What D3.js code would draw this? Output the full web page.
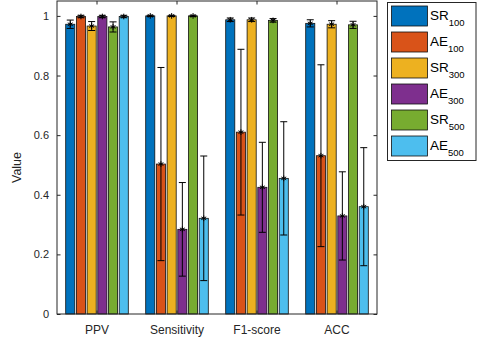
<!DOCTYPE html>
<html>
<head>
<meta charset="utf-8">
<script src="https://cdn.jsdelivr.net/npm/d3@7"></script>
<style>
  body { margin: 0; background: #fff; }
  svg { display: block; font-family: "Liberation Sans", Arial, sans-serif; }
  .tick text { fill: #262626; font-size: 11px; }
  .xax .tick text { font-size: 12px; }
</style>
</head>
<body>
<div id="chart"></div>
<script>
const categories = ["PPV", "Sensitivity", "F1-score", "ACC"];
const seriesNames = ["SR", "AE", "SR", "AE", "SR", "AE"];
const seriesSubs = ["100", "100", "300", "300", "500", "500"];
const colors = ["#0072BD", "#D95319", "#EDB120", "#7E2F8E", "#77AC30", "#4DBEEE"];

// mean per series, one value per category
const means = [
    [0.972, 1.000, 0.987, 0.975],
    [0.998, 0.503, 0.610, 0.531],
    [0.966, 1.000, 0.987, 0.972],
    [0.998, 0.284, 0.425, 0.329],
    [0.963, 1.000, 0.985, 0.970],
    [0.998, 0.321, 0.455, 0.360]
];
// error bar half length per series
const errs = [
    [0.014, 0.002, 0.006, 0.012],
    [0.004, 0.324, 0.278, 0.305],
    [0.015, 0.002, 0.006, 0.012],
    [0.004, 0.157, 0.151, 0.148],
    [0.017, 0.002, 0.006, 0.012],
    [0.004, 0.209, 0.190, 0.198]
];
const yTicks = [0, 0.2, 0.4, 0.6, 0.8, 1];

const W = 479, H = 338;
const margin = { top: 1, right: 102, bottom: 24, left: 57 };
const width = W - margin.left - margin.right;
const height = H - margin.top - margin.bottom;

const svg = d3.select("#chart").append("svg")
    .attr("width", W).attr("height", H);

const g = svg.append("g")
    .attr("transform", `translate(${margin.left},${margin.top})`);

const x0 = d3.scaleBand().domain(categories).range([0, width]);
const groupW = 64.2;
const x1 = d3.scaleBand().domain(d3.range(6)).range([0, groupW])
    .paddingInner(0.15).paddingOuter(0.075);
const y = d3.scaleLinear().domain([0, 1.05]).range([height, 0]);

const rows = [];
means.forEach((s, i) => s.forEach((v, j) => rows.push({ s: i, c: categories[j], v, e: errs[i][j] })));
const bx = d => x0(d.c) + (x0.bandwidth() - groupW) / 2 + x1(d.s);
const cx = d => bx(d) + x1.bandwidth() / 2;

// bars
g.selectAll("rect.bar").data(rows).join("rect")
    .attr("class", "bar")
    .attr("x", bx)
    .attr("y", d => y(d.v))
    .attr("width", x1.bandwidth())
    .attr("height", d => y(0) - y(d.v))
    .attr("fill", d => colors[d.s])
    .attr("stroke", "#111")
    .attr("stroke-width", 0.8);

// error bars
const eb = g.selectAll("g.err").data(rows).join("g").attr("class", "err")
    .attr("stroke", "#000").attr("stroke-width", 1);
eb.append("line")
    .attr("x1", cx).attr("x2", cx)
    .attr("y1", d => y(d.v - d.e)).attr("y2", d => y(d.v + d.e));
eb.append("line")
    .attr("x1", d => cx(d) - 3.5).attr("x2", d => cx(d) + 3.5)
    .attr("y1", d => y(d.v - d.e)).attr("y2", d => y(d.v - d.e));
eb.append("line")
    .attr("x1", d => cx(d) - 3.5).attr("x2", d => cx(d) + 3.5)
    .attr("y1", d => y(d.v + d.e)).attr("y2", d => y(d.v + d.e));

// mean markers
g.selectAll("path.mk").data(rows).join("path")
    .attr("class", "mk")
    .attr("transform", d => `translate(${cx(d)},${y(d.v)})`)
    .attr("d", d3.symbol(d3.symbolAsterisk, 22))
    .attr("fill", "none").attr("stroke", "#000").attr("stroke-width", 1);

// axes (MATLAB box with inward ticks)
const axColor = "#262626";
const axLeft = g.append("g")
    .call(d3.axisLeft(y).tickValues(yTicks).tickFormat(d3.format("")).tickSizeInner(-3.5).tickSizeOuter(0).tickPadding(8));
const axRight = g.append("g").attr("transform", `translate(${width},0)`)
    .call(d3.axisRight(y).tickValues(yTicks).tickFormat("").tickSizeInner(-3.5).tickSizeOuter(0));
const axBottom = g.append("g").attr("class", "xax").attr("transform", `translate(0,${height})`)
    .call(d3.axisBottom(x0).tickSizeInner(-3.5).tickSizeOuter(0).tickPadding(11));
const axTop = g.append("g")
    .call(d3.axisTop(x0).tickFormat("").tickSizeInner(-3.5).tickSizeOuter(0));
[axLeft, axRight, axBottom, axTop].forEach(a => {
    a.select(".domain").remove();
    a.selectAll("line").attr("stroke", axColor);
});
g.append("rect")
    .attr("x", 0).attr("y", 0).attr("width", width).attr("height", height)
    .attr("fill", "none").attr("stroke", axColor).attr("stroke-width", 1);

g.append("text")
    .attr("transform", "rotate(-90)")
    .attr("x", -height / 2 - 10).attr("y", -36)
    .attr("text-anchor", "middle")
    .attr("fill", axColor).attr("font-size", 12.5)
    .text("Value");

// legend
const lg = svg.append("g").attr("transform", "translate(387.5,2.5)");
lg.append("rect").attr("width", 88.5).attr("height", 158)
    .attr("fill", "#fff").attr("stroke", axColor).attr("stroke-width", 1);
const item = lg.selectAll("g.item").data(d3.range(6)).join("g")
    .attr("class", "item")
    .attr("transform", i => `translate(4,${3.5 + i * 26})`);
item.append("rect").attr("width", 36).attr("height", 20)
    .attr("fill", i => colors[i]).attr("stroke", "#111").attr("stroke-width", 0.8);
const t = item.append("text").attr("x", 38.5).attr("y", 13.5)
    .attr("fill", "#000").attr("font-size", 13.5);
t.append("tspan").text(i => seriesNames[i]);
t.append("tspan").attr("dy", 6.5).attr("font-size", 9.5).text(i => seriesSubs[i]);
</script>
</body>
</html>
